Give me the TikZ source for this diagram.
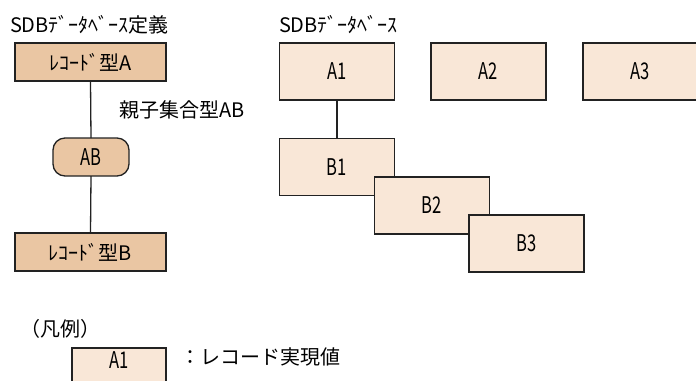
\documentclass[tikz,border=0pt]{standalone}
\usepackage{fontspec}
\setmainfont{Noto Sans CJK JP}
\newfontfamily\condfont[FakeStretch=0.72]{Noto Sans CJK JP}
\definecolor{typefill}{HTML}{EAC6A3}
\definecolor{instfill}{HTML}{F9E7D7}
\definecolor{edge}{HTML}{222222}
\begin{document}
\begin{tikzpicture}[x=1bp,y=-1bp,
  every node/.style={inner sep=0pt,outer sep=0pt,font=\fontsize{20bp}{23bp}\selectfont},
  boxtext/.style={font=\condfont\fontsize{23bp}{26bp}\selectfont},
  typebox/.style={draw=edge,line width=1.3bp,fill=typefill,minimum width=151bp,minimum height=38bp},
  setbox/.style={draw=edge,line width=1.3bp,fill=typefill,rounded corners=12bp,minimum width=76bp,minimum height=38bp,boxtext},
  instbox/.style={draw=edge,line width=1.3bp,fill=instfill,minimum width=115bp,minimum height=57bp,boxtext},
  link/.style={draw=edge,line width=1.3bp},
  label/.style={anchor=west}]
\useasboundingbox (0,0) rectangle (696,380);
\clip (0,0) rectangle (696,380);
% left: definition
\node[label] (tdef) at (10,25) {SDBﾃﾞｰﾀﾍﾞｰｽ定義};
\node[typebox] (ra) at (90.5,62) {ﾚｺｰﾄﾞ型A};
\node[setbox] (ab) at (91,157) {AB};
\node[typebox] (rb) at (90.5,252) {ﾚｺｰﾄﾞ型B};
\node[label] (setlbl) at (119,110) {親子集合型AB};
\draw[link] (ra.south) -- (ab.north);
\draw[link] (ab.south) -- (rb.north);
% right: database
\node[label] (tdb) at (279,25) {SDBﾃﾞｰﾀﾍﾞｰｽ};
\node[instbox] (a1) at (337,71.5) {A1};
\node[instbox] (a2) at (488.5,71.5) {A2};
\node[instbox] (a3) at (640.5,71.5) {A3};
\node[instbox] (b1) at (337,167) {B1};
\node[instbox] (b2) at (432,205.5) {B2};
\node[instbox] (b3) at (526.5,243.5) {B3};
\draw[link] (a1.south) -- (b1.north);
% legend
\node[label] (leg) at (20,329) {（凡例）};
\node[draw=edge,line width=1.3bp,fill=instfill,minimum width=94bp,minimum height=50bp,anchor=north] (lbox) at (119,348) {};
\node[boxtext] (lboxt) at (119,360) {A1};
\node[label] (legt) at (180,357) {：レコード実現値};
\end{tikzpicture}
\end{document}
